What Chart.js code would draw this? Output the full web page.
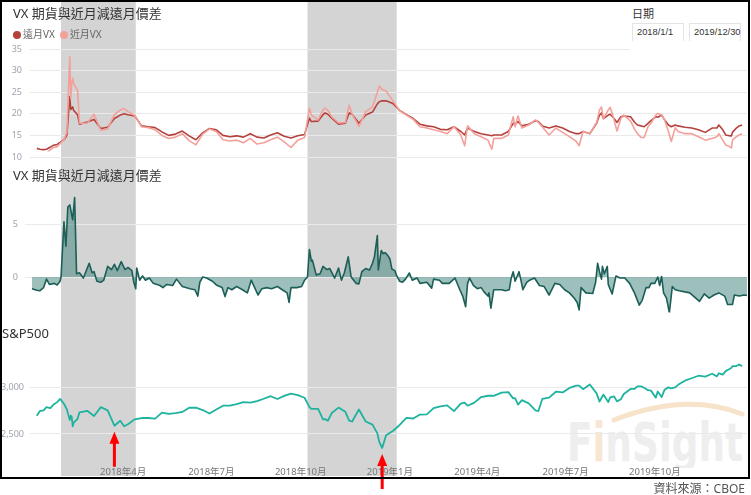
<!DOCTYPE html>
<html>
<head>
<meta charset="utf-8">
<style>
  body { margin: 0; background: #fff; font-family: 'Noto Sans', 'Noto Sans CJK TC', sans-serif; }
  #wrap { position: relative; width: 751px; height: 495px; overflow: hidden; background: #fff; }
  canvas { position: absolute; left: 0; }
  .title { position: absolute; font-size: 13px; color: #333; white-space: nowrap; line-height: 16px; }
  #legend { position: absolute; left: 13px; top: 26px; font-size: 10px; color: #666; white-space: nowrap; }
  #legend span.item { margin-right: 5px; }
  #legend span.dot { display: inline-block; width: 8px; height: 8px; border-radius: 50%; margin-right: 2px; vertical-align: -1px; }
  #mask { position: absolute; left: 630px; top: 2px; width: 117px; height: 49px; background: #fff; }
  #slicer { position: absolute; left: 632px; top: 5px; font-size: 11px; color: #333; }
  .dbox { position: absolute; top: 23px; width: 52px; height: 18px; border: 1px solid #e4e4e4; border-bottom: none; box-sizing: border-box;
          font-family: 'Liberation Sans', sans-serif; font-size: 9.3px; color: #333; line-height: 17px; padding-left: 4px; white-space: nowrap; background: #fff; }
  #frame { position: absolute; left: 0; top: 0; width: 750px; height: 479px; border: 2px solid #000; box-sizing: border-box; pointer-events: none; }
  #source { position: absolute; right: 6px; top: 479px; font-size: 12px; color: #555; }
  #wm { position: absolute; left: 566px; top: 398px; }
</style>
</head>
<body>
<div id="wrap">
  <div id="wm">
    <svg width="185" height="70">
      <path d="M 48 22 Q 120 -6 176 16" stroke="#F6E3C9" stroke-width="5" fill="none" stroke-linecap="round"/>
      <text x="1" y="63" font-family="DejaVu Sans" font-weight="bold" font-size="54" fill="#EEEEEE" textLength="176" lengthAdjust="spacingAndGlyphs">F<tspan fill="#F6E6D2">i</tspan>nSight</text>
    </svg>
  </div>
  <canvas id="c1" width="751" height="165" style="top:0"></canvas>
  <canvas id="c2" width="751" height="160" style="top:165px"></canvas>
  <canvas id="c3" width="751" height="170" style="top:325px"></canvas>
  <div id="mask"></div>
  <div class="title" style="left:13px;top:5px">VX 期貨與近月減遠月價差</div>
  <div id="legend"></div>
  <div class="title" style="left:13px;top:167px">VX 期貨與近月減遠月價差</div>
  <div class="title" style="left:2px;top:325px">S&amp;P500</div>
  <div id="slicer">日期</div>
  <div class="dbox" style="left:632px">2018/1/1</div>
  <div class="dbox" style="left:689px">2019/12/30</div>
  <div id="frame"></div>
  <div id="source">資料來源：CBOE</div>
</div>

<script src="https://cdn.jsdelivr.net/npm/chart.js"></script>
<script>
// ---- data ----
const seriesNames = ['遠月VX', '近月VX'];

const dates = [
  '2018-01-02','2018-01-05','2018-01-09','2018-01-12','2018-01-16','2018-01-19','2018-01-23','2018-01-26','2018-01-30','2018-02-02',
  '2018-02-05','2018-02-06','2018-02-07','2018-02-08','2018-02-09','2018-02-13','2018-02-15','2018-02-23','2018-03-02','2018-03-09',
  '2018-03-16','2018-03-23','2018-03-29','2018-04-02','2018-04-06','2018-04-13','2018-04-20','2018-04-27','2018-05-04','2018-05-11',
  '2018-05-18','2018-05-25','2018-06-01','2018-06-08','2018-06-15','2018-06-22','2018-06-29','2018-07-06','2018-07-13','2018-07-20',
  '2018-07-27','2018-08-03','2018-08-10','2018-08-17','2018-08-24','2018-08-31','2018-09-07','2018-09-14','2018-09-21','2018-09-28',
  '2018-10-05','2018-10-10','2018-10-12','2018-10-19','2018-10-24','2018-10-26','2018-10-29','2018-11-02','2018-11-09','2018-11-16',
  '2018-11-20','2018-11-23','2018-11-30','2018-12-07','2018-12-14','2018-12-19','2018-12-21','2018-12-24','2018-12-28','2019-01-04',
  '2019-01-11','2019-01-18','2019-01-25','2019-02-01','2019-02-08','2019-02-15','2019-02-22','2019-03-01','2019-03-08','2019-03-15',
  '2019-03-19','2019-03-22','2019-03-29','2019-04-05','2019-04-12','2019-04-16','2019-04-18','2019-04-26','2019-05-03','2019-05-08',
  '2019-05-10','2019-05-13','2019-05-17','2019-05-24','2019-05-31','2019-06-03','2019-06-07','2019-06-14','2019-06-21','2019-06-28',
  '2019-07-05','2019-07-12','2019-07-15','2019-07-19','2019-07-26','2019-08-02','2019-08-05','2019-08-07','2019-08-09','2019-08-14',
  '2019-08-16','2019-08-20','2019-08-23','2019-08-27','2019-08-30','2019-09-06','2019-09-10','2019-09-13','2019-09-17','2019-09-20',
  '2019-09-24','2019-09-27','2019-10-02','2019-10-04','2019-10-08','2019-10-11','2019-10-15','2019-10-18','2019-10-22','2019-10-25',
  '2019-11-01','2019-11-08','2019-11-15','2019-11-22','2019-11-29','2019-12-04','2019-12-06','2019-12-10','2019-12-13','2019-12-17',
  '2019-12-19','2019-12-20','2019-12-24','2019-12-27','2019-12-30'
];

const farVX = [
  12.0,11.8,11.7,11.8,12.3,12.7,12.9,13.4,14.0,15.0,
  24.0,21.0,21.2,21.6,20.8,19.8,17.6,18.1,18.7,16.6,
  16.9,18.9,19.7,20.0,19.8,19.5,17.2,17.0,16.8,15.8,
  15.0,15.3,16.0,14.9,14.0,15.6,16.6,16.3,15.0,14.7,
  14.9,14.6,15.4,14.6,14.4,15.1,15.6,14.8,14.4,14.9,
  15.2,19.0,18.2,18.3,19.8,20.2,19.9,19.0,17.6,17.8,
  20.2,19.9,17.8,19.7,20.4,22.3,22.8,23.0,23.0,22.4,
  20.8,19.8,18.9,17.6,17.2,17.0,16.4,16.3,17.0,15.9,
  15.1,16.7,15.9,15.4,15.1,14.9,15.1,15.1,15.9,17.8,
  17.6,18.2,17.2,17.6,18.4,18.2,17.2,16.7,17.2,16.7,
  15.9,15.4,15.4,15.9,15.4,17.8,19.7,20.2,18.9,19.7,
  19.9,18.9,18.0,19.3,19.5,19.3,18.1,17.4,17.2,17.0,
  17.8,18.4,19.3,19.2,19.7,18.6,17.4,17.0,17.4,17.2,
  16.9,16.7,16.3,15.7,16.7,16.7,17.4,16.3,15.1,14.9,
  14.9,15.7,16.7,17.2,17.4
];

const nearVX = [
  10.9,10.7,10.6,10.8,11.7,12.2,12.4,13.1,14.0,15.8,
  33.2,23.5,27.0,28.2,27.0,25.5,17.8,17.8,19.9,16.2,
  16.5,19.8,20.9,21.2,20.5,19.6,17.0,16.8,16.3,15.0,
  14.3,14.6,15.4,13.8,12.8,15.3,16.5,15.9,14.0,13.7,
  13.9,13.3,14.3,13.0,13.3,14.0,14.6,13.5,12.2,13.9,
  14.5,21.3,19.7,18.6,20.9,21.3,20.8,19.3,17.9,18.0,
  22.0,19.9,17.1,20.5,21.6,25.0,26.4,25.6,25.3,23.0,
  20.7,19.7,18.7,17.0,16.7,16.3,15.9,15.4,17.0,15.1,
  12.6,17.2,15.4,14.7,13.9,11.8,14.3,14.3,15.1,19.3,
  17.0,19.5,16.7,17.4,18.6,18.0,17.0,15.1,16.7,15.7,
  14.7,13.6,12.6,15.9,15.4,18.0,20.9,21.6,18.9,20.9,
  21.5,18.6,16.0,18.9,19.7,18.3,16.5,15.4,14.5,14.5,
  17.0,17.8,19.7,20.1,19.7,18.6,15.9,13.6,16.8,15.9,
  15.4,15.4,14.7,13.9,14.3,14.7,15.4,13.9,12.8,12.4,
  12.1,13.9,14.7,15.1,15.4
];

const spx = [
  2695,2743,2751,2786,2776,2810,2839,2873,2822,2762,
  2649,2695,2682,2581,2620,2662,2731,2747,2691,2786,
  2752,2588,2641,2582,2604,2656,2670,2670,2663,2728,
  2713,2721,2735,2779,2780,2755,2718,2760,2801,2802,
  2819,2840,2833,2850,2875,2902,2872,2905,2930,2914,
  2886,2786,2767,2768,2656,2658,2641,2723,2781,2736,
  2642,2633,2760,2633,2600,2507,2417,2351,2486,2532,
  2596,2671,2665,2707,2708,2776,2793,2804,2743,2822,
  2833,2801,2834,2893,2907,2907,2905,2940,2946,2879,
  2881,2812,2860,2826,2752,2744,2873,2887,2950,2942,
  2990,3014,3014,2977,3026,2932,2844,2883,2919,2840,
  2889,2900,2847,2869,2926,2979,2979,3007,3006,2992,
  2966,2962,2887,2952,2893,2970,2996,2986,2996,3023,
  3067,3093,3120,3110,3141,3113,3146,3132,3169,3192,
  3205,3221,3223,3240,3221
];

const spreadDates = [
  '2017-12-28','2018-01-02','2018-01-05','2018-01-09','2018-01-12','2018-01-15','2018-01-20','2018-01-23','2018-01-26','2018-01-27',
  '2018-01-30','2018-02-01','2018-02-03','2018-02-05','2018-02-08','2018-02-10','2018-02-12','2018-02-15','2018-02-19','2018-02-25',
  '2018-02-28','2018-03-02','2018-03-05','2018-03-09','2018-03-12','2018-03-16','2018-03-20','2018-03-23','2018-03-26','2018-03-30',
  '2018-04-03','2018-04-06','2018-04-10','2018-04-12','2018-04-14','2018-04-15','2018-04-18','2018-04-21','2018-04-24','2018-04-28',
  '2018-05-02','2018-05-09','2018-05-12','2018-05-16','2018-05-22','2018-05-26','2018-06-01','2018-06-09','2018-06-14','2018-06-17',
  '2018-06-19','2018-06-22','2018-06-26','2018-07-02','2018-07-06','2018-07-12','2018-07-15','2018-07-18','2018-07-22','2018-07-27',
  '2018-08-02','2018-08-07','2018-08-11','2018-08-15','2018-08-18','2018-08-22','2018-08-27','2018-09-01','2018-09-07','2018-09-12',
  '2018-09-17','2018-09-19','2018-09-21','2018-09-27','2018-10-02','2018-10-05','2018-10-08','2018-10-10','2018-10-12','2018-10-13',
  '2018-10-17','2018-10-21','2018-10-24','2018-10-28','2018-10-31','2018-11-05','2018-11-09','2018-11-12','2018-11-15','2018-11-19',
  '2018-11-22','2018-11-27','2018-11-30','2018-12-03','2018-12-07','2018-12-11','2018-12-14','2018-12-16','2018-12-19','2018-12-20',
  '2018-12-23','2018-12-25','2018-12-27','2018-12-30','2019-01-01','2019-01-03','2019-01-06','2019-01-08','2019-01-11','2019-01-14',
  '2019-01-17','2019-01-21','2019-01-24','2019-01-29','2019-02-01','2019-02-08','2019-02-13','2019-02-15','2019-02-21','2019-02-24',
  '2019-03-03','2019-03-09','2019-03-14','2019-03-17','2019-03-20','2019-03-22','2019-03-24','2019-03-28','2019-04-01','2019-04-05',
  '2019-04-08','2019-04-12','2019-04-13','2019-04-15','2019-04-18','2019-04-21','2019-04-26','2019-04-30','2019-05-04','2019-05-06',
  '2019-05-08','2019-05-10','2019-05-14','2019-05-16','2019-05-18','2019-05-22','2019-05-25','2019-05-30','2019-06-04','2019-06-09',
  '2019-06-14','2019-06-20','2019-06-25','2019-06-30','2019-07-05','2019-07-10','2019-07-13','2019-07-15','2019-07-17','2019-07-22',
  '2019-07-29','2019-08-01','2019-08-03','2019-08-05','2019-08-07','2019-08-08','2019-08-10','2019-08-13','2019-08-14','2019-08-18',
  '2019-08-22','2019-08-26','2019-08-31','2019-09-05','2019-09-10','2019-09-15','2019-09-18','2019-09-22','2019-09-25','2019-09-27',
  '2019-10-01','2019-10-04','2019-10-06','2019-10-08','2019-10-10','2019-10-13','2019-10-16','2019-10-19','2019-10-22','2019-10-26',
  '2019-11-06','2019-11-16','2019-11-21','2019-11-26','2019-12-01','2019-12-06','2019-12-12','2019-12-15','2019-12-20','2019-12-22',
  '2019-12-27','2020-01-01','2020-01-04'
];

const spread = [
  -1.1,-1.25,-1.3,-1.0,-0.2,-0.7,-0.6,-0.75,-0.4,0.0,
  5.2,2.9,6.6,6.8,5.4,7.5,0.3,0.4,-0.1,1.3,
  0.4,0.5,-0.4,-0.5,-0.3,1.0,0.7,1.2,0.6,1.45,
  0.7,0.9,0.6,-0.5,-1.1,0.85,-0.3,0.1,-0.3,-0.1,
  -0.6,-0.8,-1.0,-0.7,-0.8,-0.2,-0.9,-1.1,-1.2,-1.8,
  -0.5,0.0,-0.1,-0.4,-0.75,-1.0,-1.85,-1.0,-1.2,-0.9,
  -1.2,-1.5,-0.3,-1.1,-1.7,-1.1,-1.0,-1.1,-0.9,-1.2,
  -1.5,-2.4,-1.0,-1.0,-0.9,-0.3,0.0,2.6,1.5,1.6,
  0.2,0.3,1.0,0.7,0.8,-0.1,0.85,-0.3,0.4,1.9,
  0.0,-0.6,-0.65,0.5,0.8,0.66,1.3,1.9,3.9,0.66,
  2.5,2.2,2.3,2.0,1.7,0.75,0.6,0.1,-0.4,-0.5,
  -0.2,0.38,-0.3,-0.1,-0.6,-0.5,-1.05,-0.2,-0.3,-0.6,
  -0.6,-0.1,-1.2,-1.8,-2.8,-0.6,-0.1,-0.8,-1.1,-1.0,
  -1.4,-1.8,-1.5,-2.95,-1.2,-1.2,-1.2,-1.3,-1.2,-0.1,
  0.5,-0.4,0.5,-0.3,-1.2,-0.5,-0.3,-0.1,-0.8,-0.9,
  -1.7,-0.6,-0.7,-1.2,-1.5,-2.0,-2.4,-3.1,-1.0,-1.5,
  -1.55,-0.5,1.3,0.5,-0.2,1.0,0.3,1.0,-0.7,-1.6,
  0.1,-0.1,-0.1,-0.6,-1.5,-2.65,-2.2,-1.0,-1.0,-0.6,
  -0.6,0.0,-0.8,0.05,-1.5,-2.0,-3.37,-0.9,-1.2,-1.3,
  -1.5,-2.3,-1.6,-2.0,-1.7,-1.5,-1.8,-2.6,-2.6,-1.7,
  -1.8,-1.7,-1.75
];

const vxTicks = [10, 15, 20, 25, 30, 35];
const spreadTicks = [0, 5];
const spxTicks = [2500, 3000];
const monthTicks = ['2018-04-01','2018-07-01','2018-10-01','2019-01-01','2019-04-01','2019-07-01','2019-10-01'];
const shadedPeriods = [['2018-01-27', '2018-04-14'], ['2018-10-08', '2019-01-08']];
const arrowDates = ['2018-03-23', '2018-12-24'];

// ---- layout / style ----
const FONT = "'Noto Sans', 'Noto Sans CJK TC', sans-serif";
const X_MIN = -6, X_MAX = 733;
const PLOT_LEFT = 30, PLOT_RIGHT = 747;
const farColor = '#B5413C', nearColor = '#F3A09B';

function dayIndex(s) {
  const [y, m, d] = s.split('-').map(Number);
  return (Date.UTC(y, m - 1, d) - Date.UTC(2018, 0, 1)) / 864e5;
}
function points(ds, vs) { return ds.map((d, i) => ({ x: dayIndex(d), y: vs[i] })); }

// legend
document.getElementById('legend').innerHTML = seriesNames.map((n, i) =>
  `<span class="item"><span class="dot" style="background:${i ? nearColor : farColor}"></span>${n}</span>`).join('');

const bandPlugin = {
  id: 'bands',
  beforeDraw(chart, args, opts) {
    const { ctx, scales: { x } } = chart;
    ctx.save();
    ctx.fillStyle = '#D4D4D4';
    shadedPeriods.forEach(([a, b]) => {
      const x1 = x.getPixelForValue(dayIndex(a)), x2 = x.getPixelForValue(dayIndex(b));
      ctx.fillRect(x1, opts.top, x2 - x1, opts.bottom - opts.top);
    });
    ctx.restore();
  }
};

const arrowPlugin = {
  id: 'arrows',
  afterDraw(chart) {
    const { ctx, scales: { x, y } } = chart;
    ctx.save();
    ctx.fillStyle = '#FF0000';
    arrowDates.forEach(d => {
      const v = spx[dates.indexOf(d)];
      const px = x.getPixelForValue(dayIndex(d));
      const tip = y.getPixelForValue(v) + 6;
      ctx.beginPath();
      ctx.moveTo(px, tip);
      ctx.lineTo(px - 5, tip + 12);
      ctx.lineTo(px + 5, tip + 12);
      ctx.closePath();
      ctx.fill();
      ctx.fillRect(px - 1.5, tip + 11, 3, 24);
    });
    ctx.restore();
  }
};

function makeOptions(yTicks, axisW, tickPad, pad, bandBottom) {
  const xMin = X_MIN - (PLOT_LEFT - axisW) * (X_MAX - X_MIN) / (PLOT_RIGHT - PLOT_LEFT);
  return {
    responsive: false, animation: false, devicePixelRatio: 1,
    layout: { padding: { left: 0, right: 751 - PLOT_RIGHT, top: pad[0], bottom: pad[1] } },
    plugins: { legend: { display: false }, tooltip: { enabled: false }, bands: { top: 0, bottom: bandBottom } },
    elements: { point: { radius: 0 }, line: { tension: 0, borderJoinStyle: 'round' } },
    scales: {
      x: { type: 'linear', min: xMin, max: X_MAX,
           ticks: { display: false }, grid: { display: false }, border: { display: false },
           afterFit: s => { s.height = 0; } },
      y: {
        min: yTicks[0], max: yTicks[yTicks.length - 1],
        afterFit: s => { s.width = axisW; },
        afterBuildTicks: s => { s.ticks = yTicks.map(v => ({ value: v })); },
        grid: { color: '#EAEAEA', drawTicks: false },
        border: { display: false },
        ticks: { padding: tickPad, color: '#9DA4AE', font: { size: 9, family: FONT },
                 callback: v => v.toLocaleString('en-US') }
      }
    }
  };
}

// set y min/max so that tick values land on the wanted pixel rows of this canvas
function fitY(chart, v1, p1, v2, p2) {
  const { top, bottom } = chart.chartArea;
  const k = (p2 - p1) / (v2 - v1);
  chart.options.scales.y.max = v1 + (top - p1) / k;
  chart.options.scales.y.min = v1 + (bottom - p1) / k;
  chart.update('none');
}

// top: VX far / near
const ch1 = new Chart(document.getElementById('c1'), {
  type: 'line',
  data: { datasets: [
    { label: seriesNames[0], data: points(dates, farVX), borderColor: farColor, borderWidth: 1.6, order: 2 },
    { label: seriesNames[1], data: points(dates, nearVX), borderColor: nearColor, borderWidth: 1.6, order: 1 }
  ] },
  options: makeOptions(vxTicks, 30, 8, [49, 0], 165),
  plugins: [bandPlugin]
});
fitY(ch1, 35, 49, 10, 157);

// middle: near minus far
const ch2 = new Chart(document.getElementById('c2'), {
  type: 'line',
  data: { datasets: [
    { label: '近月減遠月', data: points(spreadDates, spread), borderColor: '#1B5F57', borderWidth: 1.6,
      fill: 'origin', backgroundColor: 'rgba(60,130,122,0.5)' }
  ] },
  options: makeOptions(spreadTicks, 25, 7, [20, 0], 160),
  plugins: [bandPlugin]
});
fitY(ch2, 5, 224 - 165, 0, 277 - 165);

// bottom: S&P500
const o3 = makeOptions(spxTicks, 30, 6, [30, 16], 151);
o3.scales.x = {
  type: 'linear', min: X_MIN, max: X_MAX,
  afterFit: s => { s.height = 16; },
  afterBuildTicks: s => { s.ticks = monthTicks.map(d => ({ value: dayIndex(d) })); },
  grid: { display: false, drawTicks: false }, border: { display: false },
  ticks: { autoSkip: false, maxRotation: 0, padding: 4, color: '#777', font: { size: 9.5, family: FONT },
           callback: v => { const dt = new Date(Date.UTC(2018, 0, 1) + v * 864e5);
                            return dt.getUTCFullYear() + '年' + (dt.getUTCMonth() + 1) + '月'; } }
};
const ch3 = new Chart(document.getElementById('c3'), {
  type: 'line',
  data: { datasets: [
    { label: 'S&P500', data: points(dates, spx), borderColor: '#1EB39F', borderWidth: 1.8 }
  ] },
  options: o3,
  plugins: [bandPlugin, arrowPlugin]
});
fitY(ch3, 3000, 387 - 325, 2500, 434 - 325);
</script>
</body>
</html>
